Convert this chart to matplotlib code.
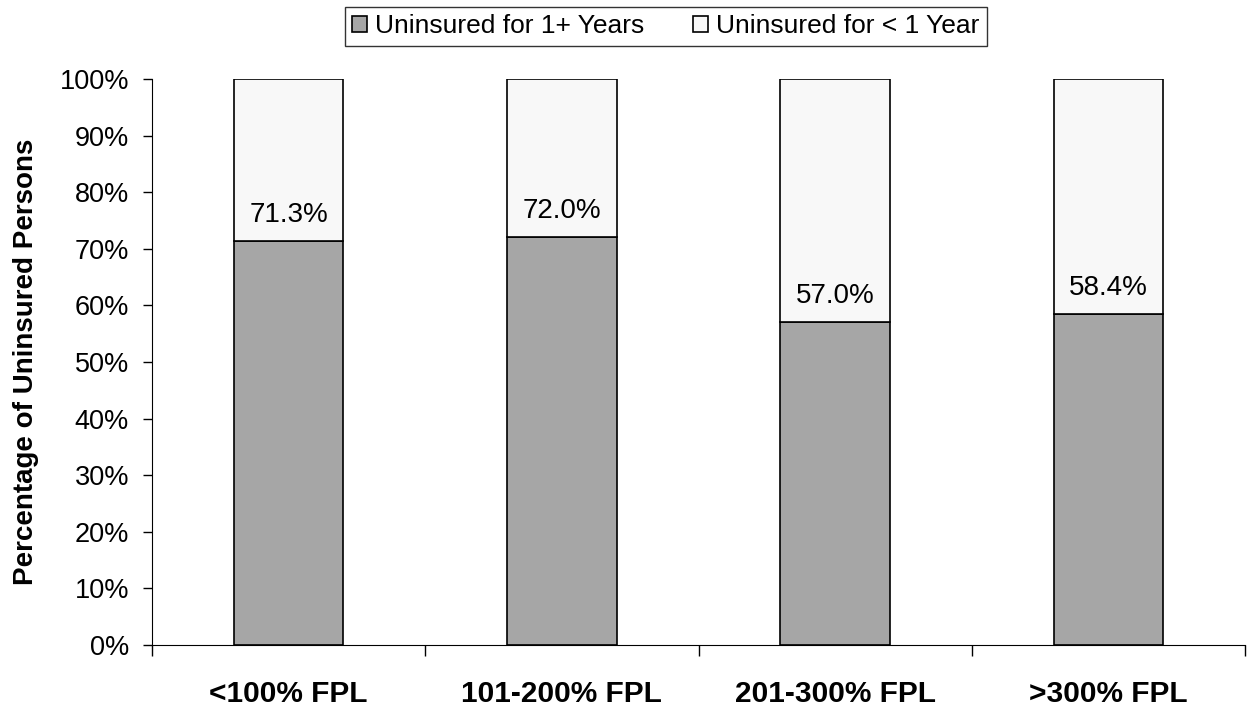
import matplotlib
matplotlib.use("Agg")
import matplotlib.pyplot as plt
import numpy as np

plt.rcParams["font.family"] = ["Liberation Sans", "DejaVu Sans"]

categories = ["<100% FPL", "101-200% FPL", "201-300% FPL", ">300% FPL"]
long_term = [71.3, 72.0, 57.0, 58.4]
short_term = [100 - v for v in long_term]

fig = plt.figure(figsize=(12.49, 7.06), dpi=100)
ax = fig.add_axes([152/1249, 1-645/706, 1093/1249, 566/706])

x = np.arange(len(categories))
ax.bar(x, long_term, width=0.4, color="#A6A6A6", edgecolor="black", linewidth=1.2,
       label="Uninsured for 1+ Years")
ax.bar(x, short_term, width=0.4, bottom=long_term, color="#F8F8F8", edgecolor="black",
       linewidth=1.2, label="Uninsured for < 1 Year")

for xi, v in zip(x, long_term):
    ax.text(xi, v + 3.4, f"{v:.1f}%", ha="center", va="baseline", fontsize=20)

ax.set_xlim(-0.5, len(categories) - 0.5)
ax.set_ylim(0, 100)
ax.set_yticks(np.arange(0, 101, 10))
ax.set_yticklabels([f"{t}%" for t in range(0, 101, 10)], fontsize=19.5)
ax.set_xticks(np.arange(-0.5, len(categories), 1))
ax.set_xticklabels([])
ax.set_xticks(x, minor=True)
ax.set_xticklabels(categories, minor=True, fontsize=21.5, fontweight="bold")
ax.tick_params(axis="x", which="major", direction="out", length=8, width=1)
ax.tick_params(axis="x", which="minor", length=0, pad=25)
ax.tick_params(axis="y", direction="out", length=6.5, width=1, pad=10)
ax.spines["top"].set_visible(False)
ax.spines["right"].set_visible(False)
ax.set_ylabel("Percentage of Uninsured Persons", fontsize=20, fontweight="bold", labelpad=15)

leg = ax.legend(loc="upper center", bbox_to_anchor=(666/1249, 1 - 7/706),
                bbox_transform=fig.transFigure, ncol=2, fontsize=19, frameon=True,
                fancybox=False, edgecolor="black", handlelength=0.57, handleheight=0.57,
                handletextpad=0.3, columnspacing=1.85, borderpad=0.28, borderaxespad=0)
leg.get_frame().set_linewidth(1)

fig.savefig("out.png", dpi=100, facecolor="white")
